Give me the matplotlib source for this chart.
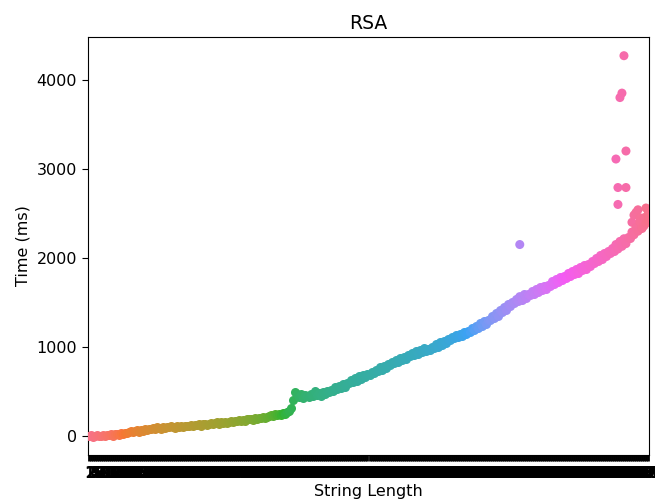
import numpy as np
import pandas as pd
import matplotlib
matplotlib.use("Agg")
import matplotlib.pyplot as plt
import seaborn as sns

# string lengths tested (categories on the x axis)
lengths = [str(n) for n in range(1, 281)]

# time per string length (ms)
times = [
    0, 6, -8, 2, 10, -4, 4, 12, -2, 8,
    10, 22, 4, 18, 28, 14, 30, 22, 38, 34,
    44, 56, 40, 52, 64, 50, 70, 62, 78, 72,
    84, 76, 92, 82, 96, 88, 80, 98, 90, 102,
    96, 108, 100, 92, 112, 104, 116, 100, 110, 118,
    114, 124, 110, 128, 120, 134, 118, 130, 138, 126,
    136, 148, 132, 144, 152, 140, 156, 146, 160, 150,
    158, 166, 154, 172, 164, 178, 168, 182, 174, 186,
    186, 196, 182, 204, 194, 208, 198, 214, 206, 218,
    222, 234, 226, 244, 236, 250, 240, 258, 252, 266,
    280, 320, 410, 490, 470, 440, 475, 430, 465, 450,
    440, 470, 455, 500, 460, 485, 445, 495, 470, 505,
    495, 520, 505, 545, 525, 560, 535, 580, 555, 595,
    590, 625, 605, 650, 620, 670, 640, 690, 665, 700,
    690, 720, 705, 745, 725, 770, 740, 790, 765, 805,
    800, 830, 815, 855, 835, 875, 850, 890, 870, 905,
    895, 930, 910, 950, 925, 965, 940, 985, 955, 975,
    965, 1000, 985, 1030, 1005, 1055, 1020, 1070, 1045, 1085,
    1080, 1110, 1095, 1135, 1110, 1150, 1125, 1170, 1140, 1180,
    1170, 1210, 1190, 1240, 1215, 1265, 1235, 1290, 1260, 1305,
    1300, 1345, 1320, 1380, 1350, 1420, 1390, 1450, 1420, 1480,
    1465, 1510, 1490, 1540, 1515, 1565, 1530, 1590, 1555, 1600,
    1580, 1625, 1600, 1650, 1620, 1670, 1640, 1690, 1655, 1700,
    1690, 1735, 1710, 1760, 1725, 1785, 1750, 1800, 1770, 1825,
    1800, 1850, 1820, 1870, 1835, 1895, 1860, 1915, 1880, 1930,
    1910, 1965, 1940, 2000, 1960, 2030, 1990, 2055, 2020, 2075,
    2050, 2110, 2080, 2150, 2100, 2185, 2130, 2215, 2160, 2240,
    2220, 2290, 2260, 2340, 2300, 2400, 2340, 2450, 2390, 2480,
]

# extra runs / outliers: (category index, time)
extra_idx = [215, 267, 266, 265, 268, 263, 264, 268, 264,
             272, 274, 276, 278, 279, 275, 277, 271, 273, 279]
extra_time = [2150, 4270, 3850, 3800, 3200, 3110, 2790, 2790, 2600,
              2480, 2540, 2330, 2560, 2490, 2450, 2360, 2400, 2510, 2420]

x = lengths + [lengths[i] for i in extra_idx]
y = times + extra_time
df = pd.DataFrame({"String Length": x, "Time (ms)": y})

fig = plt.figure(figsize=(6.55, 5.03), dpi=100)
ax = fig.add_axes([88/655, 48/503, 561/655, 418/503])

sns.stripplot(data=df, x="String Length", y="Time (ms)", hue="String Length",
              order=lengths, hue_order=lengths, palette="husl", legend=False,
              jitter=False, size=6.5, ax=ax)

ax.set_title("RSA", fontsize=13.5)
ax.set_xlabel("String Length", fontsize=11.5, labelpad=2)
ax.set_ylabel("Time (ms)", fontsize=11.5)
ax.tick_params(axis="x", width=2, length=4.5, labelsize=10.5)
ax.tick_params(axis="y", length=4.5, labelsize=11.5)
plt.setp(ax.get_xticklabels(), fontweight="heavy")
ax.set_ylim(-213, 4480)

fig.savefig("out.png", dpi=100)
